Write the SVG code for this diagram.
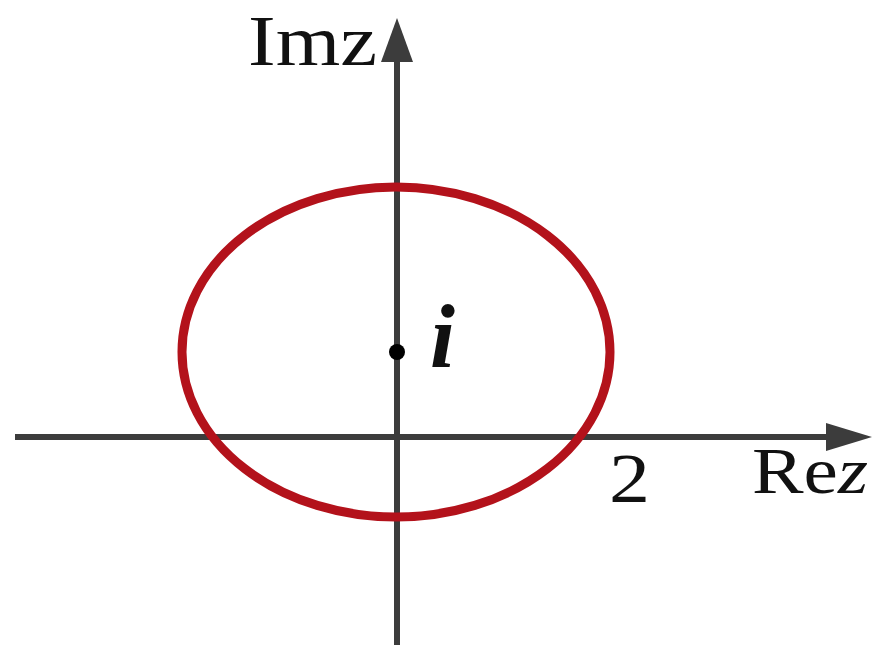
<svg xmlns="http://www.w3.org/2000/svg" width="877" height="647" viewBox="0 0 877 647">
<style>
.ax{stroke:#3c3c3c;stroke-width:6;fill:none}
.head{fill:#3c3c3c}
.t{font-family:"Liberation Serif","Times New Roman",serif;fill:#111}
</style>
<rect width="877" height="647" fill="#fff"/>
<g id="connectors">
<line class="ax" x1="15" y1="437" x2="830" y2="437"/>
<polygon class="head" points="826,423 872,437 826,451"/>
<line class="ax" x1="397" y1="645" x2="397" y2="58"/>
<polygon class="head" points="381,62 397,18 413,62"/>
</g>
<g id="circle">
<ellipse cx="396" cy="352" rx="214" ry="165" fill="none" stroke="#b3121b" stroke-width="9"/>
</g>
<g id="point">
<circle cx="397" cy="352" r="8" fill="#000"/>
<text class="t" x="430" y="367" font-size="90" font-style="italic" font-weight="bold">i</text>
</g>
<g id="labels">
<text class="t" x="248" y="65" font-size="72" textLength="129" lengthAdjust="spacingAndGlyphs">Imz</text>
<text class="t" x="752" y="493" font-size="65" textLength="116" lengthAdjust="spacingAndGlyphs">Re<tspan font-style="italic">z</tspan></text>
<text class="t" x="609" y="502" font-size="70" textLength="41" lengthAdjust="spacingAndGlyphs">2</text>
</g>
</svg>
